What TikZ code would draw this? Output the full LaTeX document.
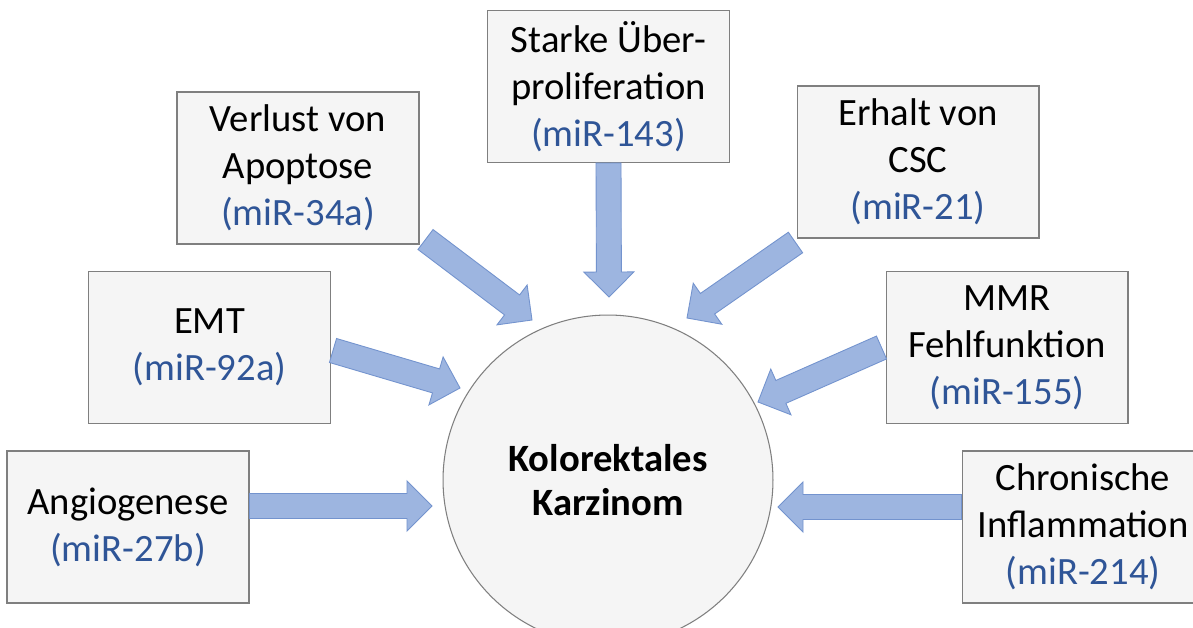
\documentclass[tikz,border=0pt]{standalone}
\usepackage{fontspec}
\setmainfont{Carlito}
\usetikzlibrary{calc}
\definecolor{mirblue}{HTML}{2F5597}
\definecolor{boxfill}{HTML}{F5F5F5}
\definecolor{boxline}{HTML}{7F7F7F}
\definecolor{arrfill}{HTML}{9DB5E0}
\definecolor{arrline}{HTML}{7393CE}

% block arrow from #1 to #2
\newcommand{\blockarr}[2]{%
  \coordinate (ah) at ($(#2)!0.5cm!(#1)$);
  \path [blockarrow] ($(#1)!0.25cm!90:(#2)$) -- ($(ah)!0.25cm!-90:(#1)$)
    -- ($(ah)!0.5cm!-90:(#1)$) -- (#2) -- ($(ah)!0.5cm!90:(#1)$)
    -- ($(ah)!0.25cm!90:(#1)$) -- ($(#1)!0.25cm!-90:(#2)$) -- cycle;
}

\begin{document}
\begin{tikzpicture}[x=0.02cm, y=-0.02cm]
\tikzstyle{factor} = [rectangle, draw=boxline, fill=boxfill, line width=0.6pt,
    minimum width=4.84cm, minimum height=3.04cm, inner sep=0pt, align=center,
    font=\fontsize{22}{26.7}\selectfont]
\tikzstyle{tumor} = [circle, draw=boxline, fill=boxfill, line width=0.6pt,
    minimum size=6.6cm, inner sep=0pt, align=center,
    font=\fontsize{22}{25.5}\selectfont\bfseries]
\tikzstyle{blockarrow} = [draw=arrline, fill=arrfill, line width=0.5pt, line join=miter]

    \fill [white] (0,0) rectangle (1193,628);
    \clip (0,0) rectangle (1193,628);

    % Place nodes
    \node [tumor] (krebs) at (608,480) {Kolorektales\\Karzinom};
    \node [factor] (ueber) at (608.5,86.5) {Starke Über-\\proliferation\\\textcolor{mirblue}{(miR-143)}};
    \node [factor] (verlust) at (298,168) {Verlust von\\Apoptose\\\textcolor{mirblue}{(miR-34a)}};
    \node [factor] (erhalt) at (918,162) {Erhalt von\\CSC\\\textcolor{mirblue}{(miR-21)}};
    \node [factor] (emt) at (209.5,347.5) {EMT\\\textcolor{mirblue}{(miR-92a)}};
    \node [factor] (mmr) at (1007,347.5) {MMR\\Fehlfunktion\\\textcolor{mirblue}{(miR-155)}};
    \node [factor] (angio) at (128,527) {Angiogenese\\\textcolor{mirblue}{(miR-27b)}};
    \node [factor] (chron) at (1083,527) {Chronische\\Inflammation\\\textcolor{mirblue}{(miR-214)}};

    % Arrow ends
    \coordinate (angio-out) at ($(angio.east)+(0,-21)$);
    \coordinate (emt-out) at ($(emt.east)+(2,3)$);
    \coordinate (verlust-out) at ($(verlust.south east)+(6,-5)$);
    \coordinate (erhalt-out) at ($(erhalt.south west)+(-1,4)$);
    \coordinate (mmr-out) at ($(mmr.west)+(-4,0)$);
    \coordinate (chron-out) at ($(chron.west)+(0,-20)$);
    \coordinate (angio-in) at (432,506);
    \coordinate (emt-in) at (460,388);
    \coordinate (verlust-in) at (532,320);
    \coordinate (ueber-in) at (609,297);
    \coordinate (erhalt-in) at (687,318);
    \coordinate (mmr-in) at (758,402);
    \coordinate (chron-in) at (778,507);

    % Draw edges
    \blockarr{angio-out}{angio-in}
    \blockarr{emt-out}{emt-in}
    \blockarr{verlust-out}{verlust-in}
    \blockarr{ueber.south}{ueber-in}
    \blockarr{erhalt-out}{erhalt-in}
    \blockarr{mmr-out}{mmr-in}
    \blockarr{chron-out}{chron-in}
\end{tikzpicture}
\end{document}
